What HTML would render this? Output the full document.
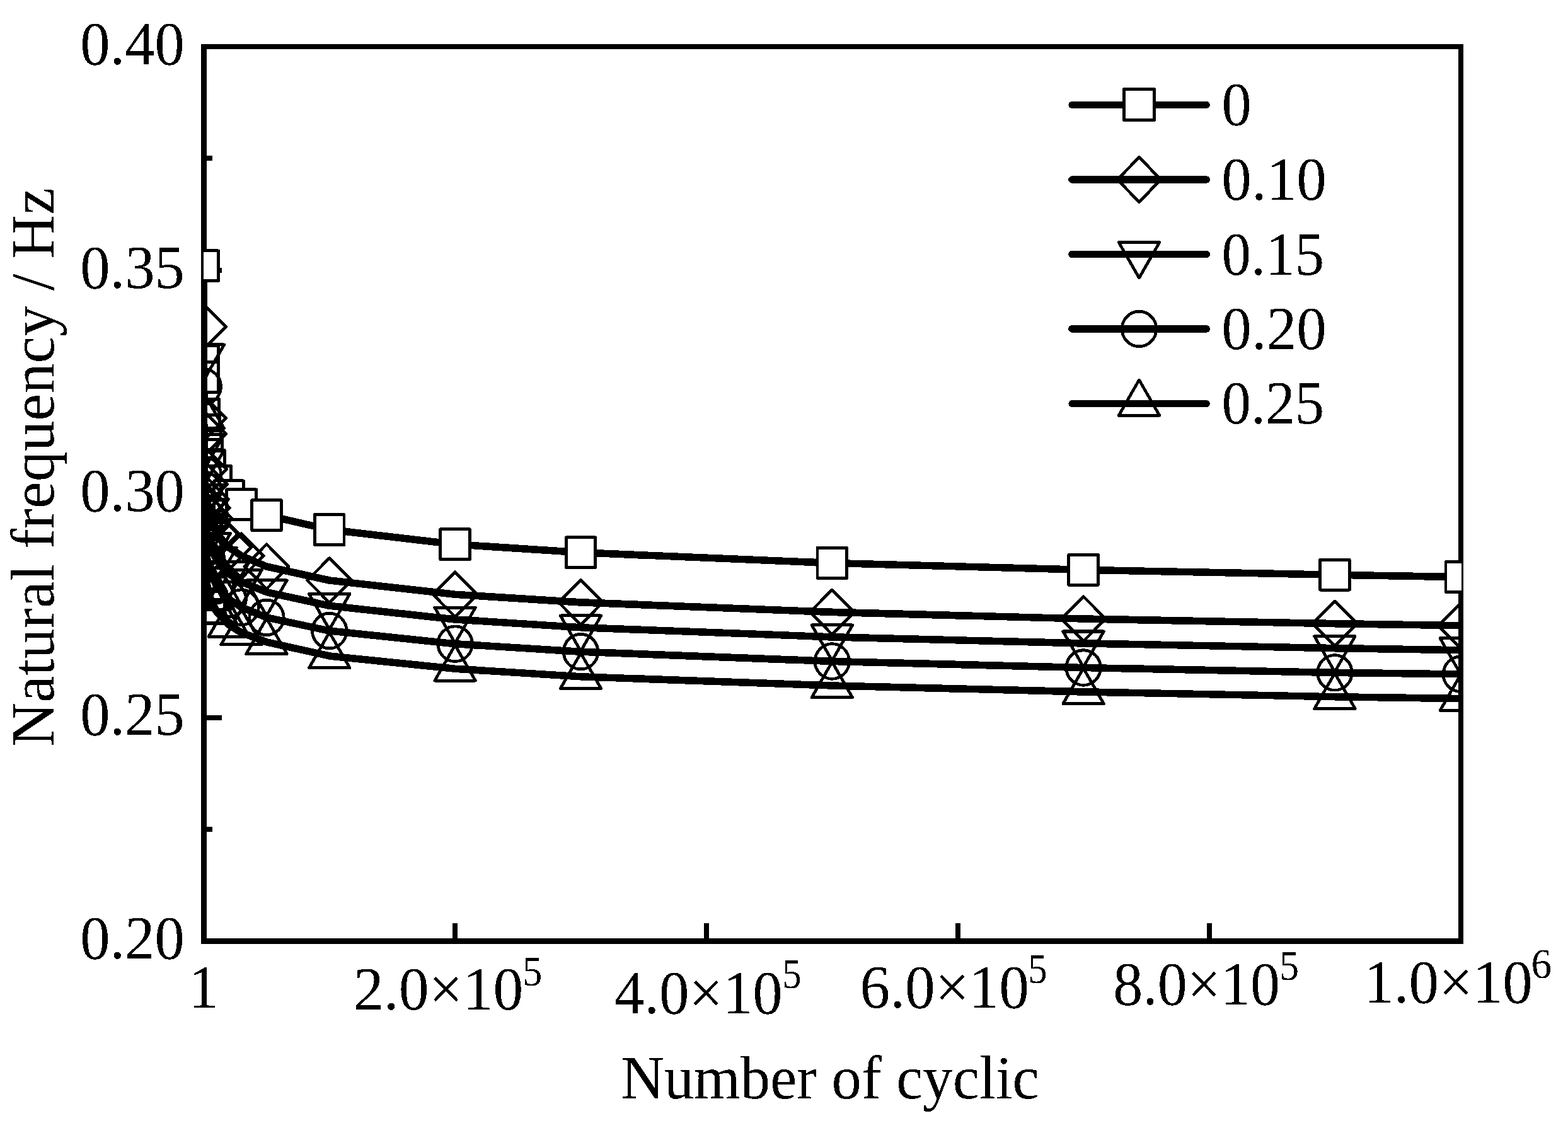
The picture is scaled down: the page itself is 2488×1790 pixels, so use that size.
<!DOCTYPE html>
<html lang="en"><head><meta charset="utf-8"><title>Natural frequency / Hz - Number of cyclic</title>
<style>html,body{margin:0;padding:0;background:#fff}body{width:2488px;height:1790px}svg{display:block}text{font-family:"Liberation Serif",serif;fill:#000}</style>
</head><body>
<svg width="2488" height="1790" viewBox="0 0 2488 1790" role="img" aria-label="Natural frequency / Hz versus Number of cyclic">
<defs><filter id="bw" x="0" y="0" width="2488" height="1790" filterUnits="userSpaceOnUse" color-interpolation-filters="sRGB"><feComponentTransfer><feFuncR type="discrete" tableValues="0 1"/><feFuncG type="discrete" tableValues="0 1"/><feFuncB type="discrete" tableValues="0 1"/></feComponentTransfer></filter>
<clipPath id="plot"><rect x="323.0" y="70" width="1996.2" height="1428"/></clipPath></defs>
<g filter="url(#bw)">
<rect width="2488" height="1790" fill="#fff"/>
<g fill="#000" shape-rendering="crispEdges">
<rect x="319" y="70" width="9" height="1428"/>
<rect x="2314" y="70" width="8" height="1428"/>
<rect x="319" y="70" width="2003" height="8"/>
<rect x="319" y="1489" width="2003" height="9"/>
<rect x="328" y="247" width="9" height="8"/>
<rect x="328" y="425" width="24" height="8"/>
<rect x="328" y="602" width="9" height="8"/>
<rect x="328" y="780" width="24" height="8"/>
<rect x="328" y="957" width="9" height="8"/>
<rect x="328" y="1135" width="24" height="8"/>
<rect x="328" y="1312" width="9" height="8"/>
<rect x="718" y="1465" width="8" height="24"/>
<rect x="1117" y="1465" width="8" height="24"/>
<rect x="1516" y="1465" width="8" height="24"/>
<rect x="1915" y="1465" width="8" height="24"/>
</g>
<g clip-path="url(#plot)" fill="none" stroke="#000" stroke-linejoin="round">
<path d="M323.3 421.8L323.4 572.9L323.5 598.7L324.3 657.6L325.3 682.4L327.3 707.0L329.3 721.3L333.3 739.2L343.2 763.1L363.2 786.8L383.1 800.6L423.0 817.6L522.7 840.6L722.1 863.7L921.5 876.8L1320.3 893.5L1719.1 904.3L2117.9 912.2L2317.3 915.6" stroke-width="11.6" stroke-linejoin="round" stroke-linecap="round"/>
<g stroke-width="4.8">
<rect x="299.95" y="397.78" width="46.70" height="48.00" fill="#fff"/>
<rect x="300.05" y="548.93" width="46.70" height="48.00" fill="#fff"/>
<rect x="300.15" y="574.74" width="46.70" height="48.00" fill="#fff"/>
<rect x="300.95" y="633.57" width="46.70" height="48.00" fill="#fff"/>
<rect x="301.94" y="658.45" width="46.70" height="48.00" fill="#fff"/>
<rect x="303.94" y="683.05" width="46.70" height="48.00" fill="#fff"/>
<rect x="305.93" y="697.31" width="46.70" height="48.00" fill="#fff"/>
<rect x="309.92" y="715.15" width="46.70" height="48.00" fill="#fff"/>
<rect x="319.89" y="739.13" width="46.70" height="48.00" fill="#fff"/>
<rect x="339.83" y="762.84" width="46.70" height="48.00" fill="#fff"/>
<rect x="359.77" y="776.59" width="46.70" height="48.00" fill="#fff"/>
<rect x="399.65" y="793.64" width="46.70" height="48.00" fill="#fff"/>
<rect x="499.35" y="816.65" width="46.70" height="48.00" fill="#fff"/>
<rect x="698.75" y="839.72" width="46.70" height="48.00" fill="#fff"/>
<rect x="898.15" y="852.80" width="46.70" height="48.00" fill="#fff"/>
<rect x="1296.95" y="869.48" width="46.70" height="48.00" fill="#fff"/>
<rect x="1695.75" y="880.31" width="46.70" height="48.00" fill="#fff"/>
<rect x="2094.55" y="888.19" width="46.70" height="48.00" fill="#fff"/>
<rect x="2293.95" y="891.57" width="46.70" height="48.00" fill="#fff"/>
</g>
<path d="M323.3 518.2L323.4 663.4L323.5 688.2L324.3 744.7L325.3 768.6L327.3 792.2L329.3 805.9L333.3 823.0L343.2 846.1L363.2 868.8L383.1 882.0L423.0 899.0L522.7 921.0L722.1 943.3L921.5 955.9L1320.3 971.4L1719.1 982.0L2117.9 989.6L2317.3 992.7" stroke-width="11.6" stroke-linejoin="round" stroke-linecap="round"/>
<g stroke-width="4.8">
<path d="M323.30 482.83L358.50 518.23L323.30 553.63L288.10 518.23z"/>
<path d="M323.40 627.99L358.60 663.39L323.40 698.79L288.20 663.39z"/>
<path d="M323.50 652.78L358.70 688.18L323.50 723.58L288.30 688.18z"/>
<path d="M324.30 709.28L359.50 744.68L324.30 780.08L289.10 744.68z"/>
<path d="M325.29 733.17L360.49 768.57L325.29 803.97L290.09 768.57z"/>
<path d="M327.29 756.80L362.49 792.20L327.29 827.60L292.09 792.20z"/>
<path d="M329.28 770.50L364.48 805.90L329.28 841.30L294.08 805.90z"/>
<path d="M333.27 787.63L368.47 823.03L333.27 858.43L298.07 823.03z"/>
<path d="M343.24 810.66L378.44 846.06L343.24 881.46L308.04 846.06z"/>
<path d="M363.18 833.44L398.38 868.84L363.18 904.24L327.98 868.84z"/>
<path d="M383.12 846.64L418.32 882.04L383.12 917.44L347.92 882.04z"/>
<path d="M423.00 863.63L458.20 899.03L423.00 934.43L387.80 899.03z"/>
<path d="M522.70 885.63L557.90 921.03L522.70 956.43L487.50 921.03z"/>
<path d="M722.10 907.85L757.30 943.25L722.10 978.65L686.90 943.25z"/>
<path d="M921.50 920.47L956.70 955.87L921.50 991.27L886.30 955.87z"/>
<path d="M1320.30 935.97L1355.50 971.37L1320.30 1006.77L1285.10 971.37z"/>
<path d="M1719.10 946.58L1754.30 981.98L1719.10 1017.38L1683.90 981.98z"/>
<path d="M2117.90 954.15L2153.10 989.55L2117.90 1024.95L2082.70 989.55z"/>
<path d="M2317.30 957.32L2352.50 992.72L2317.30 1028.12L2282.10 992.72z"/>
</g>
<path d="M323.3 565.9L323.4 708.5L323.5 732.9L324.3 788.4L325.3 811.9L327.3 835.1L329.3 848.6L333.3 865.4L343.2 888.0L363.2 910.4L383.1 923.4L423.0 939.7L522.7 961.3L722.1 983.0L921.5 995.7L1320.3 1010.9L1719.1 1020.9L2117.9 1028.6L2317.3 1031.7" stroke-width="11.6" stroke-linejoin="round" stroke-linecap="round"/>
<g stroke-width="4.8">
<path d="M291.00 546.96L355.60 546.96L323.30 603.36z"/>
<path d="M291.10 689.63L355.70 689.63L323.40 746.03z"/>
<path d="M291.20 713.98L355.80 713.98L323.50 770.38z"/>
<path d="M292.00 769.51L356.60 769.51L324.30 825.91z"/>
<path d="M292.99 792.99L357.59 792.99L325.29 849.39z"/>
<path d="M294.99 816.20L359.59 816.20L327.29 872.60z"/>
<path d="M296.98 829.66L361.58 829.66L329.28 886.06z"/>
<path d="M300.97 846.50L365.57 846.50L333.27 902.90z"/>
<path d="M310.94 869.13L375.54 869.13L343.24 925.53z"/>
<path d="M330.88 891.50L395.48 891.50L363.18 947.90z"/>
<path d="M350.82 904.47L415.42 904.47L383.12 960.87z"/>
<path d="M390.70 920.78L455.30 920.78L423.00 977.18z"/>
<path d="M490.40 942.40L555.00 942.40L522.70 998.80z"/>
<path d="M689.80 964.08L754.40 964.08L722.10 1020.48z"/>
<path d="M889.20 976.84L953.80 976.84L921.50 1033.24z"/>
<path d="M1288.00 991.96L1352.60 991.96L1320.30 1048.36z"/>
<path d="M1686.80 1002.02L1751.40 1002.02L1719.10 1058.42z"/>
<path d="M2085.60 1009.67L2150.20 1009.67L2117.90 1066.07z"/>
<path d="M2285.00 1012.76L2349.60 1012.76L2317.30 1069.16z"/>
</g>
<path d="M323.3 613.4L323.4 753.2L323.5 777.1L324.3 831.5L325.3 854.5L327.3 877.2L329.3 890.4L333.3 906.9L343.2 929.1L363.2 951.0L383.1 963.7L423.0 979.9L522.7 1001.0L722.1 1021.7L921.5 1034.2L1320.3 1049.5L1719.1 1059.5L2117.9 1067.4L2317.3 1069.8" stroke-width="11.6" stroke-linejoin="round" stroke-linecap="round"/>
<g stroke-width="4.8">
<ellipse cx="323.30" cy="613.41" rx="27.2" ry="27.8"/>
<ellipse cx="323.40" cy="753.19" rx="27.2" ry="27.8"/>
<ellipse cx="323.50" cy="777.05" rx="27.2" ry="27.8"/>
<ellipse cx="324.30" cy="831.45" rx="27.2" ry="27.8"/>
<ellipse cx="325.29" cy="854.45" rx="27.2" ry="27.8"/>
<ellipse cx="327.29" cy="877.20" rx="27.2" ry="27.8"/>
<ellipse cx="329.28" cy="890.39" rx="27.2" ry="27.8"/>
<ellipse cx="333.27" cy="906.88" rx="27.2" ry="27.8"/>
<ellipse cx="343.24" cy="929.05" rx="27.2" ry="27.8"/>
<ellipse cx="363.18" cy="950.97" rx="27.2" ry="27.8"/>
<ellipse cx="383.12" cy="963.68" rx="27.2" ry="27.8"/>
<ellipse cx="423.00" cy="979.89" rx="27.2" ry="27.8"/>
<ellipse cx="522.70" cy="1000.97" rx="27.2" ry="27.8"/>
<ellipse cx="722.10" cy="1021.74" rx="27.2" ry="27.8"/>
<ellipse cx="921.50" cy="1034.21" rx="27.2" ry="27.8"/>
<ellipse cx="1320.30" cy="1049.52" rx="27.2" ry="27.8"/>
<ellipse cx="1719.10" cy="1059.53" rx="27.2" ry="27.8"/>
<ellipse cx="2117.90" cy="1067.41" rx="27.2" ry="27.8"/>
<ellipse cx="2317.30" cy="1069.77" rx="27.2" ry="27.8"/>
</g>
<path d="M323.3 661.0L323.4 797.9L323.5 821.2L324.3 874.5L325.3 897.0L327.3 919.3L329.3 932.2L333.3 948.4L343.2 970.1L363.2 991.5L383.1 1004.0L423.0 1018.8L522.7 1040.9L722.1 1061.2L921.5 1073.8L1320.3 1088.0L1719.1 1097.9L2117.9 1105.7L2317.3 1108.6" stroke-width="11.6" stroke-linejoin="round" stroke-linecap="round"/>
<g stroke-width="4.8">
<path d="M291.00 679.86L355.60 679.86L323.30 623.46z"/>
<path d="M291.10 816.75L355.70 816.75L323.40 760.35z"/>
<path d="M291.20 840.12L355.80 840.12L323.50 783.72z"/>
<path d="M292.00 893.40L356.60 893.40L324.30 837.00z"/>
<path d="M292.99 915.92L357.59 915.92L325.29 859.52z"/>
<path d="M294.99 938.20L359.59 938.20L327.29 881.80z"/>
<path d="M296.98 951.12L361.58 951.12L329.28 894.72z"/>
<path d="M300.97 967.27L365.57 967.27L333.27 910.87z"/>
<path d="M310.94 988.98L375.54 988.98L343.24 932.58z"/>
<path d="M330.88 1010.45L395.48 1010.45L363.18 954.05z"/>
<path d="M350.82 1022.89L415.42 1022.89L383.12 966.49z"/>
<path d="M390.70 1037.68L455.30 1037.68L423.00 981.28z"/>
<path d="M490.40 1059.84L555.00 1059.84L522.70 1003.44z"/>
<path d="M689.80 1080.14L754.40 1080.14L722.10 1023.74z"/>
<path d="M889.20 1092.74L953.80 1092.74L921.50 1036.34z"/>
<path d="M1288.00 1106.89L1352.60 1106.89L1320.30 1050.49z"/>
<path d="M1686.80 1116.80L1751.40 1116.80L1719.10 1060.40z"/>
<path d="M2085.60 1124.64L2150.20 1124.64L2117.90 1068.24z"/>
<path d="M2285.00 1127.47L2349.60 1127.47L2317.30 1071.07z"/>
</g>
</g>
<text transform="translate(127.19 101.70) scale(0.9629 1)" font-size="98.30">0.40</text>
<text transform="translate(127.19 456.50) scale(0.9629 1)" font-size="98.30">0.35</text>
<text transform="translate(127.19 811.20) scale(0.9629 1)" font-size="98.30">0.30</text>
<text transform="translate(127.19 1166.00) scale(0.9629 1)" font-size="98.30">0.25</text>
<text transform="translate(127.19 1520.80) scale(0.9629 1)" font-size="98.30">0.20</text>
<text transform="translate(560.96 1601.60) scale(0.9736 1)" font-size="98.30">2.0×10</text>
<text transform="translate(829.20 1563.70) scale(0.9259 1)" font-size="67.00">5</text>
<text transform="translate(974.77 1607.90) scale(0.9655 1)" font-size="98.30">4.0×10</text>
<text transform="translate(1241.27 1568.40) scale(0.9074 1)" font-size="67.00">5</text>
<text transform="translate(1364.48 1599.20) scale(0.9706 1)" font-size="98.30">6.0×10</text>
<text transform="translate(1631.27 1560.00) scale(0.9074 1)" font-size="67.00">5</text>
<text transform="translate(1766.21 1594.00) scale(0.9572 1)" font-size="98.30">8.0×10</text>
<text transform="translate(2030.00 1554.80) scale(0.9259 1)" font-size="67.00">5</text>
<text transform="translate(2164.33 1591.10) scale(0.9667 1)" font-size="98.30">1.0×10</text>
<text transform="translate(2429.48 1551.60) scale(0.9719 1)" font-size="67.00">6</text>
<text transform="translate(299.27 1598.80) scale(0.9667 1)" font-size="98.30">1</text>
<text transform="translate(985.25 1743.00) scale(0.9645 1)" font-size="98.30">Number of cyclic</text>
<text transform="translate(85.20 1184.80) rotate(-90) scale(0.9819 1)" font-size="98.30">Natural frequency / Hz</text>
<g fill="none" stroke="#000" stroke-linejoin="round">
<path d="M1701.0 166.4H1914.2" stroke-width="11.1" stroke-linecap="round"/>
<g stroke-width="4.8"><rect x="1783.50" y="141.10" width="48.00" height="49.40" fill="#fff"/></g>
<path d="M1701.0 285.0H1914.2" stroke-width="11.6" stroke-linecap="round"/>
<g stroke-width="4.8"><path d="M1807.50 249.50L1842.00 285.00L1807.50 320.50L1773.00 285.00z"/></g>
<path d="M1701.0 403.5H1914.2" stroke-width="11.6" stroke-linecap="round"/>
<g stroke-width="4.8"><path d="M1775.20 384.60L1839.80 384.60L1807.50 441.00z"/></g>
<path d="M1701.0 521.9H1914.2" stroke-width="11.6" stroke-linecap="round"/>
<g stroke-width="4.8"><ellipse cx="1807.50" cy="521.90" rx="27.2" ry="27.8"/></g>
<path d="M1701.0 640.6H1914.2" stroke-width="11.1" stroke-linecap="round"/>
<g stroke-width="4.8"><path d="M1775.20 659.30L1839.80 659.30L1807.50 602.90z"/></g>
</g>
<text transform="translate(1938.39 198.20) scale(0.9629 1)" font-size="98.30">0</text>
<text transform="translate(1938.37 317.00) scale(0.9678 1)" font-size="98.30">0.10</text>
<text transform="translate(1938.45 435.50) scale(0.9465 1)" font-size="98.30">0.15</text>
<text transform="translate(1938.37 553.90) scale(0.9678 1)" font-size="98.30">0.20</text>
<text transform="translate(1938.45 672.40) scale(0.9465 1)" font-size="98.30">0.25</text>
</g>
</svg>
</body></html>
